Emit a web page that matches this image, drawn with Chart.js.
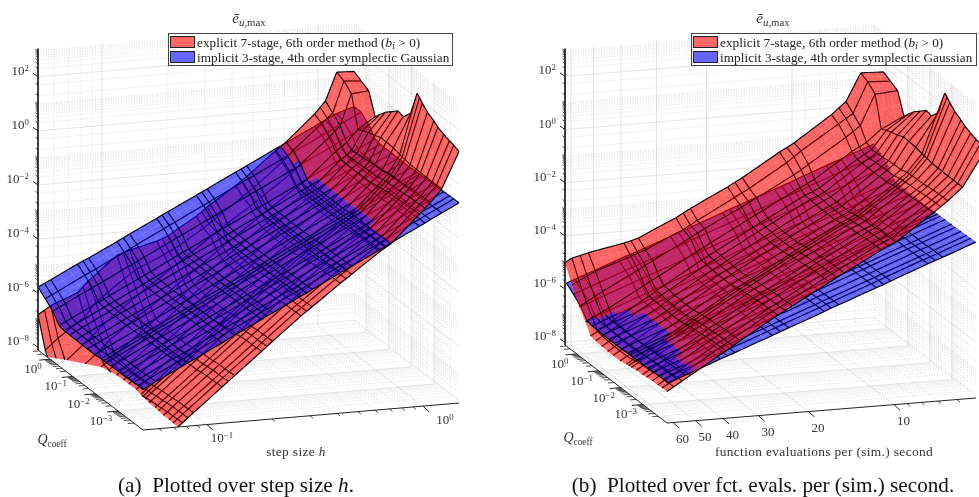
<!DOCTYPE html>
<html><head><meta charset="utf-8">
<script src="https://cdn.jsdelivr.net/npm/chart.js@4"></script>
<style>
html,body{margin:0;padding:0;background:#fff;width:979px;height:497px;overflow:hidden}
canvas{position:absolute;top:0}
.t{position:absolute;font-family:"Liberation Serif",serif;color:#333;font-size:13px;line-height:1;white-space:nowrap;transform:translate(-50%,-50%)}
.t sup{font-size:.68em;vertical-align:baseline;position:relative;top:-.45em;line-height:0}
.t sub{font-size:.72em;vertical-align:baseline;position:relative;top:.3em;line-height:0}
.r{transform:translate(-100%,-50%)}
.cap{font-size:21.2px;color:#111}
.xt{font-size:13.4px;letter-spacing:.35px}
.lg{position:absolute;top:33px;height:31px;background:#fff;border:1px solid #444;font-family:"Liberation Serif",serif;font-size:13.2px;letter-spacing:.07px;color:#222}
.lg i.p{position:absolute;left:1px;width:23px;height:10px;border:1px solid #222}
.lg span{position:absolute;left:28px;white-space:nowrap;line-height:1}
.lg sub{font-size:.72em;vertical-align:baseline;position:relative;top:.25em;line-height:0}
</style></head><body>
<canvas id="left" width="490" height="497" style="left:0"></canvas>
<canvas id="right" width="489" height="497" style="left:490px"></canvas>
<div id="labels"></div>
<script>
// ---------- data (log10 axes) ----------
const logStepSize=[-1.296,-1.266,-1.237,-1.113,-1.088,-1.062,-0.930,-0.901,-0.872,-0.747,-0.722,-0.696,-0.564,-0.538,-0.513,-0.382,-0.356,-0.330,-0.199,-0.173,-0.148,-0.016,0.010,0.035,0.087,0.167];
const logQcoeff=[-4.10,-3.87,-3.68,-3.43,-3.17,-2.99,-2.71,-2.48,-2.36,-2.25,-1.97,-1.65,-1.41,-1.14,-0.86,-0.63,-0.40,-0.12,0.21,0.53];
const explicitEvalsPerStep=7;
const implicitEvalsPerStep=3.15;
const explicitLogError=[
[-9.15,-8.96,-8.77,-7.96,-7.79,-7.62,-6.76,-6.57,-6.38,-5.57,-5.40,-5.23,-4.38,-4.23,-4.08,-3.30,-3.15,-3.00,-2.25,-2.12,-2.00,-1.00,-0.80,-0.60,-0.13,1.20],
[-9.15,-8.97,-8.78,-7.97,-7.80,-7.63,-6.77,-6.58,-6.39,-5.58,-5.41,-5.24,-4.39,-4.24,-4.09,-3.31,-3.16,-3.01,-2.26,-2.13,-2.01,-1.01,-0.81,-0.61,-0.14,1.28],
[-9.16,-8.97,-8.79,-7.98,-7.81,-7.64,-6.78,-6.59,-6.40,-5.59,-5.42,-5.25,-4.40,-4.25,-4.10,-3.32,-3.17,-3.02,-2.27,-2.14,-2.02,-1.02,-0.82,-0.62,-0.14,1.33],
[-9.17,-8.98,-8.79,-7.98,-7.81,-7.64,-6.78,-6.59,-6.40,-5.59,-5.42,-5.25,-4.40,-4.25,-4.10,-3.32,-3.17,-3.02,-2.27,-2.14,-2.02,-1.02,-0.82,-0.62,-0.14,1.40],
[-9.20,-9.01,-8.82,-8.01,-7.84,-7.67,-6.81,-6.62,-6.43,-5.62,-5.45,-5.28,-4.43,-4.28,-4.13,-3.35,-3.20,-3.05,-2.30,-2.17,-2.05,-1.05,-0.85,-0.65,-0.13,1.50],
[-9.22,-9.03,-8.84,-8.03,-7.86,-7.69,-6.83,-6.64,-6.45,-5.64,-5.47,-5.30,-4.45,-4.30,-4.15,-3.37,-3.22,-3.07,-2.32,-2.19,-2.07,-1.07,-0.87,-0.67,-0.12,1.62],
[-9.23,-9.04,-8.85,-8.04,-7.87,-7.70,-6.84,-6.65,-6.46,-5.65,-5.48,-5.31,-4.46,-4.31,-4.16,-3.38,-3.23,-3.08,-2.33,-2.20,-2.08,-1.08,-0.88,-0.68,-0.12,1.76],
[-9.27,-9.08,-8.89,-8.08,-7.91,-7.74,-6.88,-6.69,-6.50,-5.69,-5.52,-5.35,-4.50,-4.35,-4.20,-3.42,-3.27,-3.12,-2.37,-2.25,-2.12,-1.12,-0.91,-0.70,-0.08,1.95],
[-9.28,-9.09,-8.90,-8.09,-7.92,-7.75,-6.89,-6.70,-6.51,-5.70,-5.53,-5.36,-4.51,-4.36,-4.21,-3.43,-3.28,-3.13,-2.38,-2.26,-2.13,-1.13,-0.92,-0.70,-0.06,2.08],
[-9.30,-9.11,-8.92,-8.11,-7.94,-7.77,-6.91,-6.72,-6.53,-5.72,-5.55,-5.38,-4.53,-4.38,-4.23,-3.45,-3.30,-3.15,-2.40,-2.28,-2.15,-1.14,-0.92,-0.70,-0.05,2.16],
[-9.35,-9.16,-8.97,-8.16,-7.99,-7.82,-6.96,-6.77,-6.58,-5.77,-5.60,-5.43,-4.58,-4.43,-4.28,-3.50,-3.35,-3.20,-2.45,-2.33,-2.20,-1.20,-0.99,-0.78,0.02,1.25],
[-9.35,-9.16,-8.97,-8.16,-7.99,-7.82,-6.96,-6.77,-6.58,-5.77,-5.60,-5.43,-4.58,-4.43,-4.28,-3.50,-3.35,-3.20,-2.45,-2.33,-2.20,-1.20,-0.99,-0.79,0.04,0.92],
[-9.35,-9.16,-8.97,-8.16,-7.99,-7.82,-6.96,-6.77,-6.58,-5.77,-5.60,-5.43,-4.58,-4.43,-4.28,-3.50,-3.35,-3.20,-2.45,-2.33,-2.20,-1.20,-1.00,-0.80,0.05,0.98],
[-9.30,-9.10,-8.90,-8.14,-7.97,-7.80,-6.94,-6.75,-6.56,-5.75,-5.58,-5.41,-4.56,-4.41,-4.26,-3.48,-3.33,-3.18,-2.43,-2.30,-2.18,-1.20,-1.02,-0.85,-0.05,0.78],
[-9.22,-9.02,-8.82,-8.08,-7.92,-7.75,-6.91,-6.72,-6.53,-5.72,-5.55,-5.38,-4.54,-4.39,-4.24,-3.46,-3.31,-3.16,-2.41,-2.29,-2.17,-1.20,-1.03,-0.86,-0.12,0.58],
[-9.15,-8.95,-8.75,-8.03,-7.87,-7.70,-6.88,-6.69,-6.50,-5.70,-5.53,-5.36,-4.52,-4.37,-4.22,-3.44,-3.29,-3.14,-2.40,-2.28,-2.16,-1.20,-1.04,-0.88,-0.20,0.36],
[-8.90,-8.70,-8.50,-7.70,-7.50,-7.30,-6.50,-6.35,-6.20,-5.45,-5.30,-5.15,-4.35,-4.20,-4.05,-3.30,-3.15,-3.00,-2.25,-2.12,-1.98,-1.05,-0.90,-0.75,-0.30,0.12],
[-8.60,-8.38,-8.15,-7.30,-7.10,-6.90,-6.10,-5.92,-5.75,-5.05,-4.90,-4.75,-4.00,-3.85,-3.70,-3.00,-2.85,-2.70,-1.95,-1.78,-1.60,-0.70,-0.50,-0.30,0.84,0.90],
[-7.90,-7.70,-7.50,-6.80,-6.55,-6.30,-5.50,-5.35,-5.20,-4.75,-4.65,-4.55,-3.90,-3.75,-3.60,-2.85,-2.70,-2.55,-1.70,-1.50,-1.30,-0.40,-0.22,-0.05,1.10,1.05],
[-6.80,-6.65,-6.50,-6.10,-5.90,-5.70,-4.85,-4.78,-4.70,-4.45,-4.38,-4.30,-3.65,-3.50,-3.35,-2.65,-2.50,-2.35,-1.50,-1.35,-1.20,-0.25,-0.02,0.20,1.23,1.20]];
const implicitLogError=[
[-6.60,-6.48,-6.36,-5.86,-5.76,-5.66,-5.13,-5.01,-4.89,-4.39,-4.28,-4.18,-3.65,-3.55,-3.44,-2.91,-2.81,-2.71,-2.18,-2.08,-1.97,-1.44,-1.34,-1.23,-1.02,-0.70],
[-6.60,-6.48,-6.36,-5.86,-5.76,-5.66,-5.13,-5.01,-4.89,-4.39,-4.28,-4.18,-3.65,-3.55,-3.44,-2.91,-2.81,-2.71,-2.18,-2.08,-1.97,-1.44,-1.34,-1.23,-1.02,-0.70],
[-6.61,-6.49,-6.37,-5.87,-5.77,-5.67,-5.14,-5.02,-4.90,-4.40,-4.29,-4.19,-3.66,-3.56,-3.45,-2.92,-2.82,-2.72,-2.19,-2.09,-1.98,-1.45,-1.35,-1.24,-1.03,-0.71],
[-6.62,-6.50,-6.38,-5.88,-5.78,-5.68,-5.15,-5.03,-4.91,-4.41,-4.30,-4.20,-3.67,-3.57,-3.46,-2.93,-2.83,-2.73,-2.20,-2.10,-1.99,-1.46,-1.36,-1.25,-1.04,-0.72],
[-6.63,-6.51,-6.39,-5.89,-5.79,-5.69,-5.16,-5.04,-4.92,-4.42,-4.31,-4.21,-3.68,-3.58,-3.47,-2.94,-2.84,-2.74,-2.21,-2.11,-2.00,-1.47,-1.37,-1.26,-1.05,-0.73],
[-6.63,-6.51,-6.39,-5.89,-5.79,-5.69,-5.16,-5.04,-4.92,-4.42,-4.31,-4.21,-3.68,-3.58,-3.47,-2.94,-2.84,-2.74,-2.21,-2.11,-2.00,-1.47,-1.37,-1.26,-1.05,-0.73],
[-6.63,-6.51,-6.39,-5.89,-5.79,-5.69,-5.16,-5.04,-4.92,-4.42,-4.31,-4.21,-3.68,-3.58,-3.47,-2.94,-2.84,-2.74,-2.21,-2.11,-2.00,-1.47,-1.37,-1.26,-1.05,-0.73],
[-6.65,-6.53,-6.41,-5.91,-5.81,-5.71,-5.18,-5.06,-4.94,-4.44,-4.33,-4.23,-3.70,-3.60,-3.49,-2.96,-2.86,-2.76,-2.23,-2.13,-2.02,-1.49,-1.39,-1.28,-1.07,-0.75],
[-6.65,-6.53,-6.41,-5.91,-5.81,-5.71,-5.18,-5.06,-4.94,-4.44,-4.33,-4.23,-3.70,-3.60,-3.49,-2.96,-2.86,-2.76,-2.23,-2.13,-2.02,-1.49,-1.39,-1.28,-1.07,-0.75],
[-6.65,-6.53,-6.41,-5.91,-5.81,-5.71,-5.18,-5.06,-4.94,-4.44,-4.33,-4.23,-3.70,-3.60,-3.49,-2.96,-2.86,-2.76,-2.23,-2.13,-2.02,-1.49,-1.39,-1.28,-1.07,-0.75],
[-6.67,-6.55,-6.43,-5.93,-5.83,-5.73,-5.20,-5.08,-4.96,-4.46,-4.35,-4.25,-3.72,-3.62,-3.51,-2.98,-2.88,-2.78,-2.25,-2.15,-2.04,-1.51,-1.41,-1.30,-1.09,-0.77],
[-6.67,-6.55,-6.43,-5.93,-5.83,-5.73,-5.20,-5.08,-4.96,-4.46,-4.35,-4.25,-3.72,-3.62,-3.51,-2.98,-2.88,-2.78,-2.25,-2.15,-2.04,-1.51,-1.41,-1.30,-1.09,-0.77],
[-6.67,-6.55,-6.43,-5.93,-5.83,-5.73,-5.20,-5.08,-4.96,-4.46,-4.35,-4.25,-3.72,-3.62,-3.51,-2.98,-2.88,-2.78,-2.25,-2.15,-2.04,-1.51,-1.41,-1.30,-1.09,-0.77],
[-6.66,-6.54,-6.42,-5.92,-5.82,-5.72,-5.19,-5.07,-4.95,-4.45,-4.34,-4.24,-3.71,-3.61,-3.50,-2.97,-2.87,-2.77,-2.24,-2.14,-2.03,-1.50,-1.40,-1.29,-1.08,-0.76],
[-6.66,-6.54,-6.42,-5.92,-5.82,-5.72,-5.19,-5.07,-4.95,-4.45,-4.34,-4.24,-3.71,-3.61,-3.50,-2.97,-2.87,-2.77,-2.24,-2.14,-2.03,-1.50,-1.40,-1.29,-1.08,-0.76],
[-6.65,-6.53,-6.41,-5.91,-5.81,-5.71,-5.18,-5.06,-4.94,-4.44,-4.33,-4.23,-3.70,-3.60,-3.49,-2.96,-2.86,-2.76,-2.23,-2.13,-2.02,-1.49,-1.39,-1.28,-1.07,-0.75],
[-6.60,-6.48,-6.36,-5.86,-5.76,-5.66,-5.13,-5.01,-4.89,-4.39,-4.28,-4.18,-3.65,-3.55,-3.44,-2.91,-2.81,-2.71,-2.18,-2.08,-1.97,-1.44,-1.34,-1.23,-1.02,-0.70],
[-6.25,-6.13,-6.01,-5.51,-5.41,-5.31,-4.78,-4.66,-4.54,-4.04,-3.93,-3.83,-3.30,-3.20,-3.09,-2.56,-2.46,-2.36,-1.83,-1.73,-1.62,-1.09,-0.99,-0.88,-0.67,-0.35],
[-6.00,-5.88,-5.76,-5.26,-5.16,-5.06,-4.53,-4.41,-4.29,-3.79,-3.68,-3.58,-3.05,-2.95,-2.84,-2.31,-2.21,-2.11,-1.58,-1.48,-1.37,-0.84,-0.74,-0.63,-0.42,-0.10],
[-5.77,-5.66,-5.54,-5.05,-4.95,-4.86,-4.34,-4.22,-4.10,-3.61,-3.50,-3.40,-2.88,-2.78,-2.68,-2.15,-2.05,-1.95,-1.42,-1.32,-1.22,-0.71,-0.60,-0.50,-0.30,-0.10]];
const errorTicks=[-8,-6,-4,-2,0,2];
const qTicks=[0,-1,-2,-3];
const stepTicks=[-1,0];
const stepMinor=[0.06,0.07,0.08,0.09,0.2,0.3,0.4,0.5,0.6,0.7,0.8,0.9];
const evalTicks=[60,50,40,30,20,10];
const evalMinor=[9,8,7,6];
const legendLabels=['explicit 7-stage, 6th order method (<i>b<sub>i</sub></i> &gt; 0)','implicit 3-stage, 4th order symplectic Gaussian'];
const captions=['(a)&nbsp; Plotted over step size <i>h</i>.','(b)&nbsp; Plotted over fct. evals. per (sim.) second.'];
const xTitles=['step size <i>h</i>','function evaluations per (sim.) second'];
// ---------- axis limits / layout ----------
const Z0=-8.1,Z1=3.04,Q0=-4.1,Q1=0.53;
const RED='rgba(255,0,0,0.6)',BLUE='rgba(0,0,255,0.6)';
const panels=[
 {id:'left',xMin:0,xMax:490,F:[143,430],R:[459,403],L:[38,350],zPx:27.05,redUMax:1,
  uExp:l=>(l+1.296)/1.463,uImp:l=>(l+1.296)/1.463},
 {id:'right',xMin:490,xMax:979,F:[667,423],R:[976,398],L:[565,345],zPx:26.6,redUMax:1.05,
  uExp:l=>(Math.log10(63/explicitEvalsPerStep)+l)/1.088,uImp:l=>(Math.log10(63/implicitEvalsPerStep)+l)/1.088}
];
const qV=q=>(q-Q0)/(Q1-Q0);
const near=(u,v,z)=>-102*u-303*v+7.1*z;

function clipPoly(poly,get,lim,sign){
 const out=[];
 for(let i=0;i<poly.length;i++){
  const a=poly[i],b=poly[(i+1)%poly.length];
  const da=sign*(get(a)-lim),db=sign*(get(b)-lim);
  if(da>=0)out.push(a);
  if(da*db<0){const t=da/(da-db);out.push(a.map((c,k)=>c+t*(b[k]-c)));}
 }
 return out;
}
const limitsFor=um=>[[p=>p[2],Z0,1],[p=>p[0],0,1],[p=>p[0],um,-1]];
function clipAll(poly,limits){for(const [g,l,s] of limits){if(poly.length<2)break;poly=clipPoly(poly,g,l,s);}return poly;}
function clipSeg(a,b,limits){
 let t0=0,t1=1;
 for(const [g,l,s] of limits){
  const da=s*(g(a)-l),db=s*(g(b)-l);
  if(da<0&&db<0)return null;
  if(da<0)t0=Math.max(t0,da/(da-db));
  if(db<0)t1=Math.min(t1,da/(da-db));
 }
 if(t0>=t1)return null;
 const f=t=>a.map((c,k)=>c+t*(b[k]-c));
 return [f(t0),f(t1)];
}
function inside(poly,x,y){
 let c=false;
 for(let i=0,j=poly.length-1;i<poly.length;j=i++){
  const a=poly[i],b=poly[j];
  if((a.y>y)!==(b.y>y)&&x<(b.x-a.x)*(y-a.y)/(b.y-a.y)+a.x)c=!c;
 }
 return c;
}

function build(p){
 const P=(u,v,z)=>({x:p.F[0]+u*(p.R[0]-p.F[0])+v*(p.L[0]-p.F[0]),
                    y:p.F[1]+u*(p.R[1]-p.F[1])+v*(p.L[1]-p.F[1])-(z-Z0)*p.zPx});
 const BR={x:null,y:null};
 const line=(pts,color,w,dash)=>({type:'line',data:pts,borderColor:color,borderWidth:w,borderDash:dash||[],pointRadius:0,fill:false,tension:0,spanGaps:false,borderCapStyle:'butt'});
 const majU=[],minU=[];
 if(p.id==='left'){
  stepTicks.forEach(t=>majU.push(p.uExp(t)));
  stepMinor.forEach(h=>minU.push(p.uExp(Math.log10(h))));
 }else{
  const u=f=>Math.log10(63/f)/1.088;
  evalTicks.forEach(f=>majU.push(u(f)));evalMinor.forEach(f=>minU.push(u(f)));
 }
 const majV=qTicks.map(qV),minV=[];
 for(let d=-4;d<=0;d++)for(let k=2;k<=9;k++){const v=qV(d+Math.log10(k));if(v>=0&&v<=1)minV.push(v);}
 const majZ=errorTicks.slice(),minZ=[],sparseZ=[];
 for(const e of [-10,-8,-6,-4,-2,0,2])for(let k=2;k<=9;k++){const z=e+Math.log10(k);if(z>Z0&&z<Z1)minZ.push(z);}
 for(const e of [-9,-7,-5,-3,-1,1])for(const k of [1,2,5]){const z=e+Math.log10(k);if(z>Z0&&z<Z1)sparseZ.push(z);}
 const gridPts=(us,vs,zs)=>{
  const o=[];
  const add=(a,b)=>{o.push(a,b,BR);};
  us.forEach(u=>{if(u<0||u>1)return;add(P(u,1,Z0),P(u,1,Z1));add(P(u,0,Z0),P(u,1,Z0));});
  vs.forEach(v=>{add(P(1,v,Z0),P(1,v,Z1));add(P(0,v,Z0),P(1,v,Z0));});
  zs.forEach(z=>{add(P(0,1,z),P(1,1,z));add(P(1,1,z),P(1,0,z));});
  return o;
 };
 const sets=[];
 sets.push(line(gridPts(minU,minV,minZ.concat(sparseZ)),'rgba(130,130,130,0.4)',0.6,[1,1.6]));
 sets.push(line(gridPts(majU,majV,majZ),'rgba(170,170,170,0.32)',1));

 // surface cells: split finely so each piece can be layered against the other surface
 const pieces=[[],[]];
 [{z:explicitLogError,col:RED,uf:p.uExp,name:'explicit',lim:limitsFor(p.redUMax)},{z:implicitLogError,col:BLUE,uf:p.uImp,name:'implicit',lim:limitsFor(1)}].forEach((s,si)=>{
  const us=logStepSize.map(s.uf),vs=logQcoeff.map(qV);
  for(let j=0;j<vs.length-1;j++)for(let i=0;i<us.length-1;i++){
   const nu=Math.max(1,Math.ceil((us[i+1]-us[i])/0.03)),nv=Math.max(1,Math.ceil((vs[j+1]-vs[j])/0.035));
   const bl=(a,b)=>{
    const z=(1-a)*(1-b)*s.z[j][i]+a*(1-b)*s.z[j][i+1]+(1-a)*b*s.z[j+1][i]+a*b*s.z[j+1][i+1];
    return [us[i]+a*(us[i+1]-us[i]),vs[j]+b*(vs[j+1]-vs[j]),z];
   };
   for(let k=0;k<nu;k++)for(let l=0;l<nv;l++){
    const A=bl(k/nu,l/nv),B=bl((k+1)/nu,l/nv),C=bl((k+1)/nu,(l+1)/nv),D=bl(k/nu,(l+1)/nv);
    const poly=clipAll([A,B,C,D],s.lim);
    if(poly.length<3)continue;
    const edges=[];
    if(l===0)edges.push([A,B]);
    if(k===0)edges.push([A,D]);
    if(i===us.length-2&&k===nu-1)edges.push([B,C]);
    if(j===vs.length-2&&l===nv-1)edges.push([D,C]);
    const st=[];
    edges.forEach(e=>{const g=clipSeg(e[0],e[1],s.lim);if(g){st.push(P(...g[0]),P(...g[1]),BR);}});
    let cu=0,cv=0,cz=0;poly.forEach(q=>{cu+=q[0];cv+=q[1];cz+=q[2];});
    cu/=poly.length;cv/=poly.length;cz/=poly.length;
    const xy=poly.map(q=>P(...q)),c=P(cu,cv,cz);
    pieces[si].push({d:near(cu,cv,cz),poly:xy,st,col:s.col,name:s.name,c,
      x0:Math.min(...xy.map(q=>q.x)),x1:Math.max(...xy.map(q=>q.x)),y0:Math.min(...xy.map(q=>q.y)),y1:Math.max(...xy.map(q=>q.y)),front:false});
   }
  }
 });
 // a piece goes in the front layer when it is nearer than the other surface on the same sight line
 [0,1].forEach(a=>{
  pieces[a].forEach(q=>{
   let hit=false,front=true;
   for(const o of pieces[1-a]){
    if(q.c.x<o.x0||q.c.x>o.x1||q.c.y<o.y0||q.c.y>o.y1)continue;
    if(inside(o.poly,q.c.x,q.c.y)){hit=true;if(o.d>q.d)front=false;}
   }
   q.front=hit&&front;
  });
 });
 const all=pieces[0].concat(pieces[1]);
 all.sort((a,b)=>(a.front-b.front)||(a.d-b.d));
 all.forEach(c=>{
  const f=line(c.poly,'transparent',0);f.fill='shape';f.backgroundColor=c.col;f.label=c.name;
  sets.push(f);
  if(c.st.length)sets.push(line(c.st,'#000',1.15));
 });

 // axes and tick marks
 const ax=[P(0,1,Z1),P(0,1,Z0),P(0,0,Z0),P(1,0,Z0)];
 sets.push(line(ax,'#222',1));
 const tk=[],tkm=[];
 const mark=(arr,q,dx,dy)=>arr.push(q,{x:q.x+dx,y:q.y+dy},BR);
 majZ.forEach(z=>mark(tk,P(0,1,z),-5,-3.5));
 minZ.concat(sparseZ).forEach(z=>mark(tkm,P(0,1,z),-2.5,-1.8));
 majV.forEach(v=>mark(tk,P(0,v,Z0),-11,1));
 minV.forEach(v=>mark(tkm,P(0,v,Z0),-6,0.5));
 majU.forEach(u=>mark(tk,P(u,0,Z0),6,5.5));
 minU.forEach(u=>{if(u>=0&&u<=1)mark(tkm,P(u,0,Z0),3,2.5);});
 sets.push(line(tk,'#222',1));
 sets.push(line(tkm,'#222',0.8));

 new Chart(document.getElementById(p.id),{
  type:'line',
  data:{datasets:sets.reverse()},
  options:{responsive:false,animation:false,events:[],normalized:true,
   layout:{padding:0},
   plugins:{legend:{display:false},title:{display:false},tooltip:{enabled:false}},
   scales:{x:{type:'linear',display:false,min:p.xMin,max:p.xMax,offset:false},
           y:{type:'linear',display:false,min:0,max:497,reverse:true,offset:false}}}
 });

 // text
 const box=document.getElementById('labels');
 const txt=(h,x,y,cls)=>{const d=document.createElement('div');d.className='t '+(cls||'');d.innerHTML=h;d.style.left=x+'px';d.style.top=y+'px';box.appendChild(d);};
 const pow=e=>'10<sup>'+(e<0?'\u2212'+(-e):e)+'</sup>';
 errorTicks.forEach(z=>{const q=P(0,1,z);txt(pow(z),q.x-9,q.y-7,'r');});
 qTicks.forEach(t=>{const q=P(0,qV(t),Z0);txt(pow(t),q.x-17,q.y+9);});
 const qc='<i style="font-size:14px">Q</i><sub>coeff</sub>';
 const ttl='<span style="font-size:15px"><i>\u0113</i><sub><i>u</i>,max</sub></span>';
 if(p.id==='left'){
  stepTicks.forEach((t,i)=>{const q=P(p.uExp(t),0,Z0);txt(pow(t),q.x+(i?22:15),q.y+12.5);});
  txt(qc,52,440);txt(xTitles[0],296,452,'xt');txt(captions[0],236,486,'cap');
  txt(ttl,249,18);
 }else{
  evalTicks.forEach(f=>{const q=P(Math.log10(63/f)/1.088,0,Z0);txt(String(f),q.x+9.5,q.y+15.5);});
  txt(qc,578,438);txt(xTitles[1],824,452,'xt');txt(captions[1],763,486,'cap');
  txt(ttl,773,18);
 }
 const lg=document.createElement('div');lg.className='lg';
 const lx=p.id==='left'?168:691,lw=p.id==='left'?283:284;
 lg.style.left=lx+'px';lg.style.width=lw+'px';
 [RED,BLUE].forEach((c,i)=>{
  lg.innerHTML+='<i class="p" style="top:'+(i?17:2)+'px;background:'+c+'"></i><span style="top:'+(i?17:2)+'px">'+legendLabels[i]+'</span>';
 });
 box.appendChild(lg);
}
panels.forEach(build);
</script>
</body></html>
